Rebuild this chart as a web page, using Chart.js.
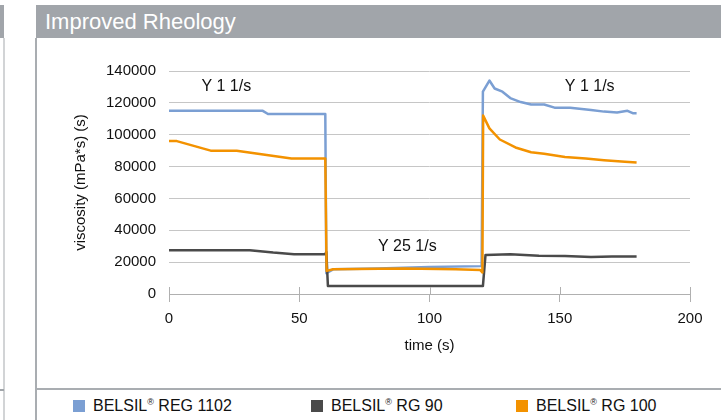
<!DOCTYPE html>
<html>
<head>
<meta charset="utf-8">
<script src="https://cdn.jsdelivr.net/npm/chart.js@4/dist/chart.umd.min.js"></script>
<style>
  html, body { margin: 0; padding: 0; background: #fff; }
  body { width: 721px; height: 420px; position: relative; overflow: hidden; font-family: "Liberation Sans", Arial, sans-serif; }
  .bar-left { position: absolute; left: 0; top: 5px; width: 4px; height: 33px; background: #a1a5aa; }
  .strip-left { position: absolute; left: 3px; top: 38px; width: 2px; height: 382px; background: #d2d4d6; }
  .sep-left { position: absolute; left: 0; top: 389px; width: 4px; height: 2px; background: #a1a5aa; }
  .title-bar { position: absolute; left: 36px; top: 5px; width: 685px; height: 33px; background: #a1a5aa; color: #fff; font-size: 22px; line-height: 33px; padding-left: 9px; box-sizing: border-box; }
  .vline { position: absolute; left: 35px; top: 38px; width: 2px; height: 382px; background: #a9adb1; }
  .hline { position: absolute; left: 36px; top: 388px; width: 685px; height: 2px; background: #a9adb1; }
  #wrap { position: absolute; left: 37px; top: 38px; width: 684px; height: 350px; }
  .legend { position: absolute; top: 397px; left: 0; width: 721px; height: 20px; font-size: 16px; color: #111; }
  .legend .item { position: absolute; top: 0; white-space: nowrap; line-height: 18px; }
  .legend .box { display: inline-block; width: 12px; height: 12px; vertical-align: -1px; margin-right: 8px; }
  .legend sup { font-size: 9px; vertical-align: 6px; line-height: 0; }
</style>
</head>
<body>
<div class="bar-left"></div>
<div class="strip-left"></div>
<div class="sep-left"></div>
<div class="title-bar">Improved Rheology</div>
<div class="vline"></div>
<div class="hline"></div>
<div id="wrap"><canvas id="c" width="684" height="350"></canvas></div>
<div class="legend" id="legend"></div>
<script>
// ---- data ----
const seriesNames = ["BELSIL® REG 1102", "BELSIL® RG 90", "BELSIL® RG 100"];
const seriesColors = ["#7b9fd3", "#4a4a4a", "#f39200"];

const blueTime = [0, 36, 38, 60, 60.4, 63, 80, 100, 120, 120.5, 123, 125, 128, 131, 135, 139, 144, 148, 154, 162, 167, 172, 176, 178, 179.5];
const blueVisc = [115000, 115000, 113000, 113000, 13000, 15500, 16000, 17000, 17500, 127000, 134000, 129000, 127000, 123000, 120500, 119000, 119000, 117000, 117000, 115500, 114500, 114000, 115000, 113500, 113500];

const grayTime = [0, 31, 40, 48, 60, 60.4, 61, 120.5, 121.5, 131, 142, 152, 162, 170, 179.5];
const grayVisc = [27500, 27500, 26000, 25000, 25000, 26500, 5000, 5000, 24500, 25000, 24000, 23800, 23200, 23500, 23500];

const orangeTime = [0, 3, 16, 26, 47, 60, 60.5, 63, 90, 110, 119.5, 120.3, 120.6, 123, 127, 133, 139, 144, 152, 160, 167, 175, 179.5];
const orangeVisc = [96000, 96000, 90000, 90000, 85000, 85000, 14500, 15500, 16000, 15500, 15000, 13500, 112000, 104000, 97000, 92000, 89000, 88000, 86000, 85000, 84000, 83000, 82500];

const xTicks = [0, 50, 100, 150, 200];
const yTicks = [0, 20000, 40000, 60000, 80000, 100000, 120000, 140000];

const noteTexts = ["Y 1 1/s", "Y 25 1/s", "Y 1 1/s"];
const noteTime = [22, 91.5, 161.5];
const noteVisc = [130000, 29500, 130000];

const xTitle = "time (s)";
const yTitle = "viscosity (mPa*s) (s)";

// ---- build ----
function pts(t, v) { return t.map((x, i) => ({ x: x, y: v[i] })); }

const FONT = "'Liberation Sans', Arial, sans-serif";

const notesPlugin = {
  id: 'notes',
  afterDatasetsDraw(chart) {
    const ctx = chart.ctx, xs = chart.scales.x, ys = chart.scales.y;
    ctx.save();
    // upper half of x-axis tick marks
    ctx.strokeStyle = '#b0b0b0';
    ctx.lineWidth = 1;
    const y0 = ys.getPixelForValue(0);
    xTicks.forEach(t => {
      const px = Math.round(xs.getPixelForValue(t)) + 0.5;
      ctx.beginPath(); ctx.moveTo(px, y0 - 7); ctx.lineTo(px, y0); ctx.stroke();
    });
    ctx.fillStyle = '#111';
    ctx.font = "16px " + FONT;
    ctx.textAlign = 'center';
    ctx.textBaseline = 'middle';
    noteTexts.forEach((s, i) => {
      ctx.fillText(s, xs.getPixelForValue(noteTime[i]), ys.getPixelForValue(noteVisc[i]));
    });
    ctx.restore();
  }
};

const datasets = [
  { label: seriesNames[0], data: pts(blueTime, blueVisc), borderColor: seriesColors[0], order: 2 },
  { label: seriesNames[1], data: pts(grayTime, grayVisc), borderColor: seriesColors[1], order: 1 },
  { label: seriesNames[2], data: pts(orangeTime, orangeVisc), borderColor: seriesColors[2], order: 0 }
].map(d => Object.assign(d, { borderWidth: 2.5, pointRadius: 0, tension: 0, fill: false, backgroundColor: d.borderColor, borderJoinStyle: 'round' }));

new Chart(document.getElementById('c'), {
  type: 'line',
  data: { datasets: datasets },
  options: {
    responsive: false,
    animation: false,
    events: [],
    layout: { padding: { top: 33, right: 31, left: 0, bottom: 0 } },
    plugins: { legend: { display: false }, tooltip: { enabled: false } },
    scales: {
      x: {
        type: 'linear', min: 0, max: 200,
        afterBuildTicks: s => { s.ticks = xTicks.map(v => ({ value: v })); },
        afterFit: s => { s.height = 94; },
        grid: { drawOnChartArea: false, drawTicks: true, tickLength: 8, color: '#b0b0b0' },
        border: { display: true, color: '#b0b0b0', width: 1 },
        ticks: { color: '#111', font: { family: FONT, size: 15 }, padding: 8, maxRotation: 0 },
        title: { display: true, text: xTitle, color: '#111', font: { family: FONT, size: 15 }, padding: { top: 4, bottom: 33 } }
      },
      y: {
        type: 'linear', min: 0, max: 140000,
        afterBuildTicks: s => { s.ticks = yTicks.map(v => ({ value: v })); },
        afterFit: s => { s.width = 132; },
        grid: { drawTicks: false, color: '#c6c6c6', lineWidth: 1 },
        border: { display: false },
        ticks: { color: '#111', font: { family: FONT, size: 15 }, padding: 13, callback: v => String(v) },
        title: { display: true, text: yTitle, color: '#111', font: { family: FONT, size: 15 }, padding: { top: 35, bottom: 0 } }
      }
    }
  },
  plugins: [notesPlugin]
});

// legend (HTML, from the series arrays)
const legendX = [73, 311, 516];
const lg = document.getElementById('legend');
seriesNames.forEach((name, i) => {
  const it = document.createElement('div');
  it.className = 'item';
  it.style.left = legendX[i] + 'px';
  const parts = name.split('®');
  it.innerHTML = '<span class="box" style="background:' + seriesColors[i] + '"></span>' + parts[0] + '<sup>®</sup>' + parts[1];
  lg.appendChild(it);
});
</script>
</body>
</html>
